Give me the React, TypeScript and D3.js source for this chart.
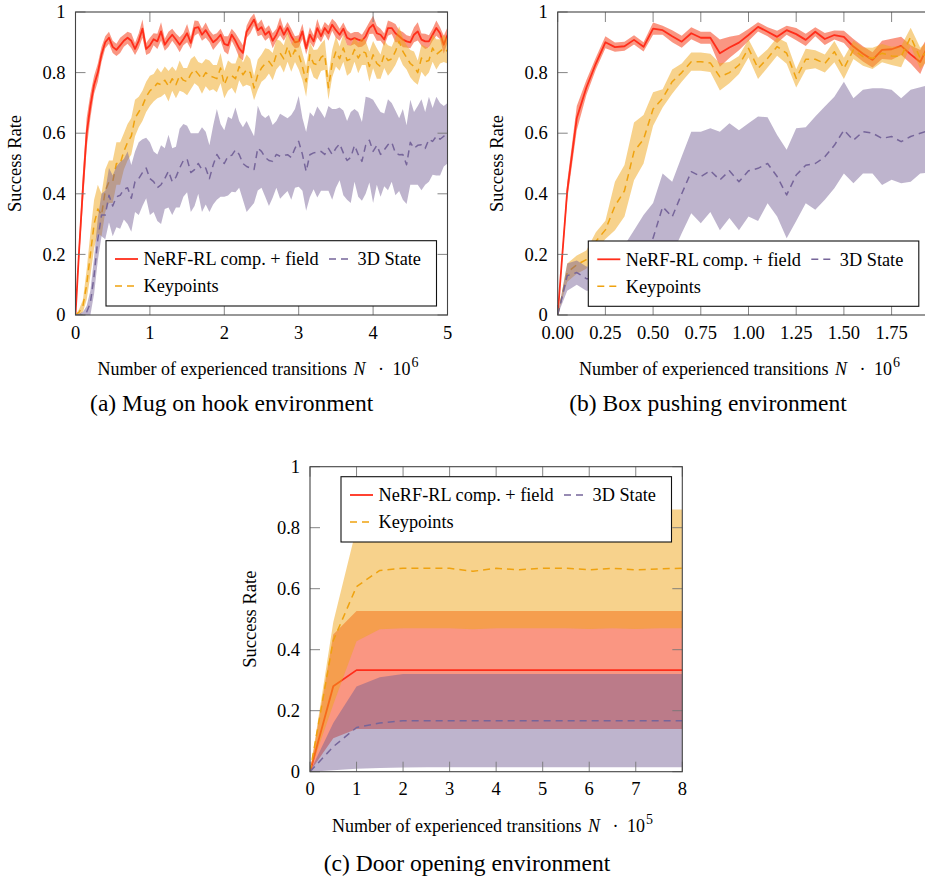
import React from "react";
import * as d3 from "d3";

const FONT = "'Liberation Serif', 'DejaVu Serif', 'Times New Roman', serif";

// (a) Mug on hook: one sample every 0.05 * 10^6 transitions
const MUG_STEP = 0.05;
const mugNerf = [
  0, 0.22, 0.42, 0.6, 0.69, 0.76, 0.8, 0.86, 0.9, 0.915,
  0.885, 0.875, 0.89, 0.905, 0.915, 0.905, 0.878, 0.905, 0.945, 0.878,
  0.89, 0.91, 0.903, 0.936, 0.892, 0.91, 0.925, 0.909, 0.892, 0.91,
  0.93, 0.898, 0.947, 0.95, 0.925, 0.94, 0.92, 0.9, 0.91, 0.925,
  0.895, 0.89, 0.925, 0.905, 0.88, 0.865, 0.935, 0.955, 0.975, 0.94,
  0.95, 0.925, 0.936, 0.905, 0.925, 0.953, 0.925, 0.947, 0.92, 0.9,
  0.903, 0.936, 0.88, 0.925, 0.903, 0.947, 0.92, 0.947, 0.93, 0.958,
  0.94, 0.925, 0.945, 0.915, 0.909, 0.914, 0.909, 0.905, 0.92, 0.947,
  0.958, 0.93, 0.925, 0.909, 0.947, 0.947, 0.93, 0.92, 0.909, 0.903,
  0.9, 0.925, 0.936, 0.909, 0.903, 0.903, 0.925, 0.947, 0.93, 0.892,
  0.925,
];
const mugNerfErr = [
  0, 0.03, 0.05, 0.05, 0.04, 0.03, 0.03, 0.025, 0.02, 0.02,
  0.02, 0.02, 0.025, 0.02, 0.02, 0.025, 0.02, 0.025, 0.03, 0.02,
  0.025, 0.02, 0.025, 0.03, 0.02, 0.025, 0.02, 0.02, 0.025, 0.02,
  0.03, 0.02, 0.025, 0.02, 0.02, 0.025, 0.02, 0.025, 0.02, 0.02,
  0.025, 0.03, 0.02, 0.025, 0.03, 0.025, 0.02, 0.025, 0.02, 0.02,
  0.025, 0.02, 0.02, 0.025, 0.02, 0.03, 0.02, 0.02, 0.025, 0.02,
  0.02, 0.025, 0.02, 0.025, 0.02, 0.03, 0.02, 0.02, 0.025, 0.02,
  0.025, 0.02, 0.02, 0.025, 0.02, 0.02, 0.025, 0.02, 0.025, 0.02,
  0.03, 0.025, 0.02, 0.02, 0.025, 0.02, 0.03, 0.02, 0.025, 0.02,
  0.02, 0.025, 0.03, 0.02, 0.025, 0.02, 0.02, 0.025, 0.02, 0.03,
  0.025,
];
const mugKeypoints = [
  0, 0.01, 0.03, 0.1, 0.2, 0.3, 0.35, 0.33, 0.41, 0.44,
  0.44, 0.5, 0.5, 0.54, 0.57, 0.59, 0.65, 0.67, 0.69, 0.72,
  0.74, 0.75, 0.765, 0.76, 0.775, 0.755, 0.78, 0.76, 0.79, 0.775,
  0.77, 0.795, 0.81, 0.795, 0.78, 0.8, 0.79, 0.785, 0.78, 0.815,
  0.76, 0.79, 0.79, 0.78, 0.82, 0.793, 0.81, 0.8, 0.749, 0.793,
  0.815, 0.83, 0.837, 0.82, 0.86, 0.865, 0.845, 0.886, 0.848, 0.875,
  0.86, 0.82, 0.77, 0.859, 0.83, 0.826, 0.85, 0.859, 0.75, 0.83,
  0.87, 0.846, 0.881, 0.84, 0.845, 0.876, 0.848, 0.87, 0.865, 0.82,
  0.859, 0.83, 0.82, 0.86, 0.84, 0.845, 0.87, 0.903, 0.87, 0.85,
  0.83, 0.82, 0.8, 0.848, 0.836, 0.84, 0.881, 0.86, 0.87, 0.88,
  0.87,
];
const mugKeypointsErr = [
  0, 0.01, 0.02, 0.05, 0.07, 0.08, 0.08, 0.07, 0.07, 0.07,
  0.07, 0.07, 0.07, 0.06, 0.06, 0.06, 0.06, 0.05, 0.05, 0.05,
  0.05, 0.045, 0.05, 0.04, 0.045, 0.05, 0.04, 0.045, 0.05, 0.04,
  0.045, 0.05, 0.045, 0.04, 0.05, 0.045, 0.05, 0.04, 0.045, 0.05,
  0.045, 0.05, 0.04, 0.05, 0.045, 0.04, 0.05, 0.045, 0.04, 0.05,
  0.045, 0.05, 0.04, 0.045, 0.05, 0.04, 0.045, 0.05, 0.045, 0.04,
  0.05, 0.045, 0.05, 0.04, 0.045, 0.05, 0.045, 0.05, 0.04, 0.045,
  0.05, 0.04, 0.045, 0.05, 0.045, 0.04, 0.05, 0.045, 0.04, 0.05,
  0.045, 0.05, 0.04, 0.045, 0.05, 0.04, 0.045, 0.05, 0.045, 0.04,
  0.045, 0.05, 0.04, 0.045, 0.05, 0.04, 0.045, 0.05, 0.04, 0.045,
  0.04,
];
const mugState = [
  0, 0, 0, 0.01, 0.04, 0.13, 0.25, 0.33, 0.33, 0.395,
  0.36, 0.39, 0.395, 0.415, 0.42, 0.385, 0.44, 0.45, 0.47, 0.485,
  0.45, 0.44, 0.42, 0.43, 0.45, 0.475, 0.44, 0.455, 0.485, 0.51,
  0.515, 0.47, 0.48, 0.5, 0.48, 0.485, 0.45, 0.495, 0.53, 0.51,
  0.5, 0.524, 0.527, 0.545, 0.53, 0.5, 0.49, 0.485, 0.48, 0.551,
  0.54, 0.52, 0.51, 0.507, 0.53, 0.524, 0.527, 0.529, 0.52, 0.55,
  0.573, 0.53, 0.474, 0.529, 0.535, 0.538, 0.54, 0.53, 0.55, 0.53,
  0.55, 0.565, 0.535, 0.51, 0.52, 0.56, 0.53, 0.507, 0.56, 0.577,
  0.54, 0.56, 0.53, 0.545, 0.562, 0.57, 0.535, 0.529, 0.53, 0.496,
  0.57, 0.55, 0.56, 0.562, 0.55, 0.58, 0.573, 0.59, 0.58, 0.59,
  0.6,
];
const mugStateErr = [
  0, 0.005, 0.01, 0.02, 0.04, 0.06, 0.07, 0.07, 0.08, 0.09,
  0.1, 0.1, 0.11, 0.1, 0.12, 0.11, 0.1, 0.12, 0.11, 0.1,
  0.12, 0.1, 0.11, 0.13, 0.1, 0.12, 0.11, 0.1, 0.13, 0.12,
  0.11, 0.13, 0.12, 0.1, 0.14, 0.12, 0.11, 0.13, 0.15, 0.12,
  0.11, 0.13, 0.12, 0.14, 0.11, 0.12, 0.15, 0.13, 0.11, 0.14,
  0.12, 0.13, 0.15, 0.12, 0.11, 0.14, 0.13, 0.12, 0.14, 0.13,
  0.15, 0.12, 0.13, 0.14, 0.12, 0.15, 0.13, 0.12, 0.14, 0.15,
  0.13, 0.12, 0.14, 0.13, 0.15, 0.12, 0.14, 0.13, 0.16, 0.14,
  0.17, 0.13, 0.14, 0.12, 0.15, 0.13, 0.14, 0.12, 0.15, 0.13,
  0.14, 0.12, 0.13, 0.15, 0.12, 0.14, 0.11, 0.13, 0.12, 0.1,
  0.1,
];

// (b) Box pushing: one sample every 0.05 * 10^6 transitions
const BOX_STEP = 0.05;
const boxNerf = [
  0, 0.41, 0.65, 0.75, 0.83, 0.9, 0.884, 0.887, 0.908, 0.885,
  0.945, 0.94, 0.92, 0.902, 0.93, 0.915, 0.915, 0.864, 0.883, 0.899,
  0.924, 0.951, 0.935, 0.918, 0.94, 0.927, 0.908, 0.935, 0.911, 0.924,
  0.918, 0.886, 0.862, 0.842, 0.875, 0.877, 0.888, 0.86, 0.835, 0.9,
];
const boxNerfErr = [
  0, 0.03, 0.04, 0.025, 0.02, 0.02, 0.015, 0.015, 0.015, 0.015,
  0.02, 0.015, 0.02, 0.02, 0.02, 0.02, 0.02, 0.045, 0.035, 0.025,
  0.02, 0.015, 0.015, 0.02, 0.015, 0.02, 0.02, 0.015, 0.02, 0.015,
  0.02, 0.025, 0.025, 0.025, 0.03, 0.035, 0.03, 0.03, 0.04, 0.03,
];
const boxKeypoints = [
  0, 0.14, 0.166, 0.183, 0.243, 0.281, 0.36, 0.41, 0.54, 0.58,
  0.68, 0.715, 0.77, 0.8, 0.836, 0.836, 0.832, 0.786, 0.8, 0.825,
  0.88, 0.814, 0.847, 0.886, 0.864, 0.781, 0.844, 0.844, 0.83, 0.869,
  0.814, 0.875, 0.853, 0.847, 0.864, 0.855, 0.853, 0.918, 0.847, 0.88,
];
const boxKeypointsErr = [
  0, 0.03, 0.03, 0.03, 0.03, 0.03, 0.08, 0.085, 0.095, 0.08,
  0.055, 0.03, 0.04, 0.03, 0.03, 0.03, 0.03, 0.045, 0.035, 0.03,
  0.03, 0.035, 0.03, 0.03, 0.035, 0.03, 0.035, 0.03, 0.03, 0.035,
  0.035, 0.03, 0.03, 0.035, 0.03, 0.03, 0.035, 0.03, 0.035, 0.03,
];
const boxState = [
  0, 0.13, 0.14, 0.12, 0.12, 0.12, 0.13, 0.15, 0.18, 0.22,
  0.254, 0.357, 0.324, 0.4, 0.473, 0.457, 0.476, 0.446, 0.476, 0.44,
  0.476, 0.484, 0.5, 0.457, 0.396, 0.462, 0.494, 0.5, 0.522, 0.56,
  0.61, 0.577, 0.605, 0.6, 0.583, 0.589, 0.572, 0.589, 0.6, 0.61,
];
const boxStateLow = [
  0, 0.08, 0.1, 0.08, 0.08, 0.08, 0.08, 0.08, 0.09, 0.12,
  0.15, 0.2, 0.2, 0.27, 0.336, 0.303, 0.34, 0.28, 0.32, 0.28,
  0.325, 0.31, 0.369, 0.325, 0.253, 0.31, 0.369, 0.347, 0.38, 0.418,
  0.467, 0.435, 0.467, 0.467, 0.429, 0.446, 0.435, 0.44, 0.467, 0.47,
];
const boxStateHigh = [
  0, 0.17, 0.18, 0.16, 0.16, 0.17, 0.19, 0.23, 0.28, 0.33,
  0.37, 0.467, 0.44, 0.523, 0.605, 0.605, 0.616, 0.605, 0.633, 0.61,
  0.633, 0.655, 0.653, 0.594, 0.545, 0.616, 0.62, 0.655, 0.688, 0.72,
  0.77, 0.715, 0.743, 0.748, 0.748, 0.743, 0.715, 0.743, 0.752, 0.76,
];

// (c) Door opening: one sample every 0.5 * 10^5 transitions
const DOOR_STEP = 0.5;
const doorNerf = [0, 0.28, 0.333, 0.333, 0.333, 0.333, 0.333, 0.333, 0.333, 0.333, 0.333, 0.333, 0.333, 0.333, 0.333, 0.333, 0.333];
const doorNerfLow = [0, 0.11, 0.14, 0.14, 0.14, 0.14, 0.14, 0.14, 0.14, 0.14, 0.14, 0.14, 0.14, 0.14, 0.14, 0.14, 0.14];
const doorNerfHigh = [0, 0.45, 0.527, 0.527, 0.527, 0.527, 0.527, 0.527, 0.527, 0.527, 0.527, 0.527, 0.527, 0.527, 0.527, 0.527, 0.527];
const doorKeypoints = [0, 0.43, 0.607, 0.66, 0.667, 0.667, 0.667, 0.657, 0.667, 0.662, 0.667, 0.667, 0.662, 0.667, 0.662, 0.665, 0.667];
const doorKeypointsLow = [0, 0.22, 0.428, 0.467, 0.47, 0.47, 0.47, 0.467, 0.47, 0.47, 0.47, 0.47, 0.468, 0.47, 0.468, 0.47, 0.47];
const doorKeypointsHigh = [0, 0.49, 0.8, 0.86, 0.86, 0.86, 0.86, 0.86, 0.86, 0.86, 0.86, 0.86, 0.86, 0.86, 0.86, 0.86, 0.86];
const doorState = [0, 0.082, 0.145, 0.16, 0.167, 0.167, 0.167, 0.167, 0.167, 0.167, 0.167, 0.167, 0.167, 0.167, 0.167, 0.167, 0.167];
const doorStateLow = [0, 0.005, 0.01, 0.012, 0.014, 0.015, 0.015, 0.015, 0.015, 0.015, 0.015, 0.015, 0.015, 0.015, 0.015, 0.015, 0.015];
const doorStateHigh = [0, 0.16, 0.279, 0.31, 0.32, 0.32, 0.32, 0.32, 0.32, 0.32, 0.32, 0.32, 0.32, 0.32, 0.32, 0.32, 0.32];

const yTicks = [0, 0.2, 0.4, 0.6, 0.8, 1];
const mugXTicks = [0, 1, 2, 3, 4, 5];
const boxXTicks = [0, 0.25, 0.5, 0.75, 1, 1.25, 1.5, 1.75];
const doorXTicks = [0, 1, 2, 3, 4, 5, 6, 7, 8];
const legendLabels = ["NeRF-RL comp. + field", "3D State", "Keypoints"];

type Pt = { x: number; y: number; lo: number; hi: number };
type Style = { line: string; fill: string; fillOpacity: number; dash?: string; width: number };

const fromErr = (step: number, mean: number[], err: number[]): Pt[] =>
  mean.map((y, i) => ({ x: i * step, y, lo: y - err[i], hi: y + err[i] }));
const fromBounds = (step: number, mean: number[], lo: number[], hi: number[]): Pt[] =>
  mean.map((y, i) => ({ x: i * step, y, lo: lo[i], hi: hi[i] }));

const STYLE: Record<string, Style> = {
  nerf: { line: "#ff2d1a", fill: "#f52d05", fillOpacity: 0.5, width: 1.8 },
  keypoints: { line: "#efa20f", fill: "#efa519", fillOpacity: 0.5, dash: "7 5", width: 1.5 },
  state: { line: "#76659a", fill: "#725c92", fillOpacity: 0.46, dash: "7 5", width: 1.5 },
};

function Legend({ left, top }: { left: number; top: number }) {
  const items = [
    { style: STYLE.nerf, label: legendLabels[0], dx: 0, row: 0 },
    { style: STYLE.state, label: legendLabels[1], dx: 214, row: 0 },
    { style: STYLE.keypoints, label: legendLabels[2], dx: 0, row: 1 },
  ];
  return (
    <g>
      <rect x={left} y={top} width={330.5} height={65.3} fill="#fff" stroke="#111" strokeWidth={1.1} />
      {items.map((it, i) => {
        const cy = top + 18.3 + it.row * 27;
        return (
          <g key={i}>
            <line x1={left + 9 + it.dx} x2={left + 32 + it.dx} y1={cy} y2={cy}
              stroke={it.style.line} strokeWidth={it.style.width} strokeDasharray={it.style.dash} />
            <text x={left + 37.5 + it.dx} y={cy + 6.3} fontSize={18.3}>{it.label}</text>
          </g>
        );
      })}
    </g>
  );
}

function XLabel({ cx, y, exp }: { cx: number; y: number; exp: string }) {
  const s = cx - 164;
  return (
    <text y={y} fontSize={18}>
      <tspan x={s}>Number of experienced transitions</tspan>
      <tspan x={s + 256} fontStyle="italic">N</tspan>
      <tspan x={s + 280.5}>·</tspan>
      <tspan x={s + 295}>10</tspan>
      <tspan x={s + 314} dy={-8} fontSize={14}>{exp}</tspan>
    </text>
  );
}

type PanelProps = {
  id: string;
  left: number; right: number; top: number; bottom: number;
  xMax: number; xTicks: number[]; xFmt: (v: number) => string;
  series: { pts: Pt[]; style: Style }[];
  legend: [number, number];
  labelCx: number; exp: string;
  caption: string; captionCx: number; captionY: number;
};

function Panel(p: PanelProps) {
  const x = d3.scaleLinear().domain([0, p.xMax]).range([p.left, p.right]);
  const y = d3.scaleLinear().domain([0, 1]).range([p.bottom, p.top]);
  const area = d3.area<Pt>().x(d => x(d.x)).y0(d => y(d.lo)).y1(d => y(d.hi));
  const line = d3.line<Pt>().x(d => x(d.x)).y(d => y(d.y));
  const tickLen = 10;
  const tickCol = "#777";
  const fmtY = d3.format("~g");

  return (
    <g>
      <defs>
        <clipPath id={p.id}>
          <rect x={p.left} y={p.top} width={p.right - p.left} height={p.bottom - p.top} />
        </clipPath>
      </defs>
      <g clipPath={`url(#${p.id})`}>
        {p.series.map((s, i) => (
          <g key={i}>
            <path d={area(s.pts) || ""} fill={s.style.fill} fillOpacity={s.style.fillOpacity} />
            <path d={line(s.pts) || ""} fill="none" stroke={s.style.line} strokeWidth={s.style.width}
              strokeDasharray={s.style.dash} strokeLinejoin="round" />
          </g>
        ))}
      </g>

      {/* ticks, inward on all four sides */}
      {p.xTicks.map(t => (
        <g key={"xt" + t}>
          <line x1={x(t)} x2={x(t)} y1={p.bottom} y2={p.bottom - tickLen} stroke={tickCol} strokeWidth={0.9} />
          <line x1={x(t)} x2={x(t)} y1={p.top} y2={p.top + tickLen} stroke={tickCol} strokeWidth={0.9} />
          <text x={x(t)} y={p.bottom + 23.5} textAnchor="middle" fontSize={18.5}>{p.xFmt(t)}</text>
        </g>
      ))}
      {yTicks.map(t => (
        <g key={"yt" + t}>
          <line x1={p.left} x2={p.left + tickLen} y1={y(t)} y2={y(t)} stroke={tickCol} strokeWidth={0.9} />
          <line x1={p.right} x2={p.right - tickLen} y1={y(t)} y2={y(t)} stroke={tickCol} strokeWidth={0.9} />
          <text x={p.left - 10} y={y(t)} dy="0.34em" textAnchor="end" fontSize={18.5}>{fmtY(t)}</text>
        </g>
      ))}
      <rect x={p.left} y={p.top} width={p.right - p.left} height={p.bottom - p.top}
        fill="none" stroke="#444" strokeWidth={1.1} />

      <text transform={`translate(${p.left - 54.4},${(p.top + p.bottom) / 2}) rotate(-90)`}
        textAnchor="middle" fontSize={18.5}>Success Rate</text>

      <Legend left={p.legend[0]} top={p.legend[1]} />

      <XLabel cx={p.labelCx} y={p.bottom + 60} exp={p.exp} />
      <text x={p.captionCx} y={p.captionY} textAnchor="middle" fontSize={23.5}>{p.caption}</text>
    </g>
  );
}

export default function App() {
  const mugSeries = [
    { pts: fromErr(MUG_STEP, mugNerf, mugNerfErr), style: STYLE.nerf },
    { pts: fromErr(MUG_STEP, mugKeypoints, mugKeypointsErr), style: STYLE.keypoints },
    { pts: fromErr(MUG_STEP, mugState, mugStateErr), style: STYLE.state },
  ];
  const boxSeries = [
    { pts: fromErr(BOX_STEP, boxNerf, boxNerfErr), style: STYLE.nerf },
    { pts: fromErr(BOX_STEP, boxKeypoints, boxKeypointsErr), style: STYLE.keypoints },
    { pts: fromBounds(BOX_STEP, boxState, boxStateLow, boxStateHigh), style: STYLE.state },
  ];
  const doorSeries = [
    { pts: fromBounds(DOOR_STEP, doorNerf, doorNerfLow, doorNerfHigh), style: STYLE.nerf },
    { pts: fromBounds(DOOR_STEP, doorKeypoints, doorKeypointsLow, doorKeypointsHigh), style: STYLE.keypoints },
    { pts: fromBounds(DOOR_STEP, doorState, doorStateLow, doorStateHigh), style: STYLE.state },
  ];

  return (
    <svg width={925} height={877} fontFamily={FONT}
      style={{ position: "absolute", left: 0, top: 0, background: "#fff", display: "block" }}>
      <Panel id="clip-mug" left={75.5} right={447.5} top={12} bottom={315}
        xMax={5} xTicks={mugXTicks} xFmt={d3.format("d")} series={mugSeries}
        legend={[106, 240.7]} labelCx={261.5} exp="6"
        caption="(a) Mug on hook environment" captionCx={231.7} captionY={410.7} />
      <Panel id="clip-box" left={557.7} right={939.3} top={12} bottom={315}
        xMax={2} xTicks={boxXTicks} xFmt={d3.format(".2f")} series={boxSeries}
        legend={[588.3, 241]} labelCx={743} exp="6"
        caption="(b) Box pushing environment" captionCx={708} captionY={410.7} />
      <Panel id="clip-door" left={310} right={682.3} top={466.7} bottom={771.7}
        xMax={8} xTicks={doorXTicks} xFmt={d3.format("d")} series={doorSeries}
        legend={[341, 476.7]} labelCx={496} exp="5"
        caption="(c) Door opening environment" captionCx={467} captionY={871} />
    </svg>
  );
}
